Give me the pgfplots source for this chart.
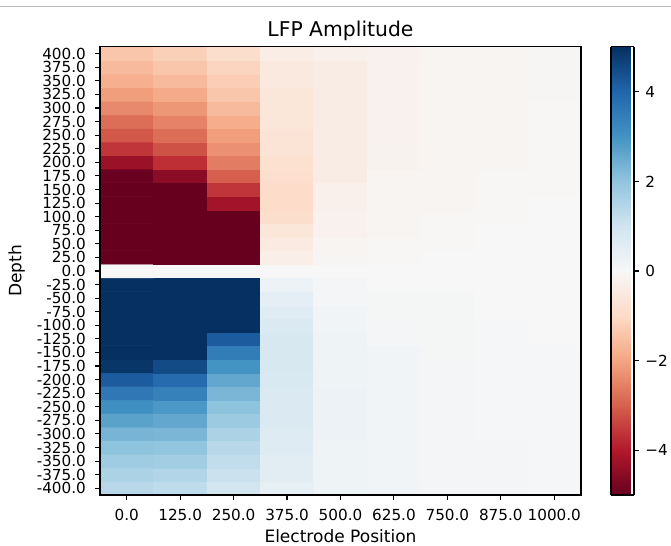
\documentclass[border=0pt]{standalone}
\usepackage{fontspec}
\setmainfont{DejaVu Sans}
\usepackage{pgfplots}
\pgfplotsset{compat=1.18}

% matplotlib RdBu, low = red, high = blue
\pgfplotsset{
  colormap={RdBu}{rgb255=(103,0,31) rgb255=(178,24,43) rgb255=(214,96,77)
    rgb255=(244,165,130) rgb255=(253,219,199) rgb255=(247,247,247)
    rgb255=(209,229,240) rgb255=(146,197,222) rgb255=(67,147,195)
    rgb255=(33,102,172) rgb255=(5,48,97)},
  every tick label/.append style={font=\fontsize{11}{13}\selectfont},
  colorbar shift/.style={},
}

\begin{document}
\begin{tikzpicture}
\useasboundingbox (-72bp,-36.7bp) rectangle (411.1bp,356.4bp);
\draw[line width=0.8bp, black!27] (-72bp,351.4bp) -- (411.1bp,351.4bp);
\begin{axis}[
  name=main, at={(0,0)}, anchor=south west,
  scale only axis, width=346.3bp, height=322.6bp,
  xmin=-0.5, xmax=8.5, ymin=-412.5, ymax=412.5,
  enlargelimits=false, axis on top,
  colormap name=RdBu, point meta min=-5, point meta max=5,
  xtick={0,1,2,3,4,5,6,7,8},
  xticklabels={0.0,125.0,250.0,375.0,500.0,625.0,750.0,875.0,1000.0},
  ytick={-400,-375,-350,-325,-300,-275,-250,-225,-200,-175,-150,-125,-100,-75,-50,-25,0,25,50,75,100,125,150,175,200,225,250,275,300,325,350,375,400},
  yticklabels={-400.0,-375.0,-350.0,-325.0,-300.0,-275.0,-250.0,-225.0,-200.0,-175.0,-150.0,-125.0,-100.0,-75.0,-50.0,-25.0,0.0,25.0,50.0,75.0,100.0,125.0,150.0,175.0,200.0,225.0,250.0,275.0,300.0,325.0,350.0,375.0,400.0},
  xtick pos=bottom, ytick pos=left, tick align=outside, major tick length=3.5bp,
  tick style={black, line width=0.8bp},
  axis line style={black, line width=0.8bp},
  xticklabel style={inner sep=0pt}, xticklabel shift=6.5bp,
  yticklabel style={inner sep=0pt}, yticklabel shift=6.5bp,
  title={LFP Amplitude},
  title style={font=\fontsize{14.7}{16}\selectfont, at={(axis description cs:0.5,1)},
    anchor=base, inner sep=0pt, yshift=1.2bp},
  xlabel={Electrode Position}, ylabel={Depth},
  label style={font=\fontsize{12.3}{14}\selectfont},
  xlabel style={at={(axis description cs:0.5,0)}, anchor=north, inner sep=0pt, yshift=-24.5bp},
  ylabel style={at={(axis description cs:-0.1733,0.5)}, anchor=center, inner sep=0pt},
  colorbar,
  colorbar style={
    at={(parent axis.north east)}, anchor=north west, xshift=21.6bp,
    width=16.6bp,
    separate axis lines, axis y line*=right, axis x line*=box,
    ytick={-4,-2,0,2,4}, yticklabels={−4,−2,0,2,4},
    xtick=\empty,
    tick align=outside, major tick length=3.5bp,
    tick style={black, line width=0.8bp},
    axis line style={black, line width=0.8bp},
    yticklabel style={inner sep=0pt, anchor=west}, yticklabel shift=4.4bp,
    extra description/.code={\draw[black, line width=0.8bp] (rel axis cs:0,0) -- (rel axis cs:0,1);},
  },
]
\addplot[matrix plot*, mesh/cols=9, point meta=explicit]
  table[x=x, y=y, meta=z, row sep=\\] {
x y z\\
0 -400 1.4\\ 1 -400 1.3\\ 2 -400 0.95\\ 3 -400 0.45\\ 4 -400 0.25\\ 5 -400 0.15\\ 6 -400 0.1\\ 7 -400 0.09\\ 8 -400 0.07\\
0 -375 1.6\\ 1 -375 1.5\\ 2 -375 1.1\\ 3 -375 0.55\\ 4 -375 0.25\\ 5 -375 0.15\\ 6 -375 0.1\\ 7 -375 0.09\\ 8 -375 0.07\\
0 -350 1.8\\ 1 -350 1.75\\ 2 -350 1.25\\ 3 -350 0.55\\ 4 -350 0.25\\ 5 -350 0.15\\ 6 -350 0.1\\ 7 -350 0.09\\ 8 -350 0.07\\
0 -325 2.05\\ 1 -325 2.0\\ 2 -325 1.4\\ 3 -325 0.65\\ 4 -325 0.25\\ 5 -325 0.15\\ 6 -325 0.1\\ 7 -325 0.09\\ 8 -325 0.07\\
0 -300 2.35\\ 1 -300 2.3\\ 2 -300 1.6\\ 3 -300 0.65\\ 4 -300 0.3\\ 5 -300 0.15\\ 6 -300 0.1\\ 7 -300 0.07\\ 8 -300 0.07\\
0 -275 2.7\\ 1 -275 2.6\\ 2 -275 1.85\\ 3 -275 0.75\\ 4 -275 0.3\\ 5 -275 0.15\\ 6 -275 0.1\\ 7 -275 0.07\\ 8 -275 0.07\\
0 -250 3.1\\ 1 -250 2.9\\ 2 -250 2.05\\ 3 -250 0.75\\ 4 -250 0.3\\ 5 -250 0.15\\ 6 -250 0.1\\ 7 -250 0.07\\ 8 -250 0.07\\
0 -225 3.6\\ 1 -225 3.4\\ 2 -225 2.3\\ 3 -225 0.75\\ 4 -225 0.3\\ 5 -225 0.15\\ 6 -225 0.1\\ 7 -225 0.07\\ 8 -225 0.07\\
0 -200 4.2\\ 1 -200 3.9\\ 2 -200 2.6\\ 3 -200 0.8\\ 4 -200 0.25\\ 5 -200 0.15\\ 6 -200 0.1\\ 7 -200 0.07\\ 8 -200 0.07\\
0 -175 4.9\\ 1 -175 4.5\\ 2 -175 3.0\\ 3 -175 0.85\\ 4 -175 0.25\\ 5 -175 0.15\\ 6 -175 0.1\\ 7 -175 0.07\\ 8 -175 0.07\\
0 -150 5\\ 1 -150 5\\ 2 -150 3.5\\ 3 -150 0.85\\ 4 -150 0.25\\ 5 -150 0.15\\ 6 -150 0.08\\ 7 -150 0.07\\ 8 -150 0.07\\
0 -125 5\\ 1 -125 5\\ 2 -125 4.2\\ 3 -125 0.85\\ 4 -125 0.25\\ 5 -125 0.1\\ 6 -125 0.08\\ 7 -125 0.07\\ 8 -125 0\\
0 -100 5\\ 1 -100 5\\ 2 -100 5\\ 3 -100 0.75\\ 4 -100 0.15\\ 5 -100 0.1\\ 6 -100 0.08\\ 7 -100 0.07\\ 8 -100 0\\
0 -75 5\\ 1 -75 5\\ 2 -75 5\\ 3 -75 0.6\\ 4 -75 0.15\\ 5 -75 0.08\\ 6 -75 0.08\\ 7 -75 0\\ 8 -75 0\\
0 -50 5\\ 1 -50 5\\ 2 -50 5\\ 3 -50 0.5\\ 4 -50 0.1\\ 5 -50 0.08\\ 6 -50 0.08\\ 7 -50 0\\ 8 -50 0\\
0 -25 5\\ 1 -25 5\\ 2 -25 5\\ 3 -25 0.3\\ 4 -25 0.1\\ 5 -25 0\\ 6 -25 0\\ 7 -25 0\\ 8 -25 0\\
0 0 0\\ 1 0 0\\ 2 0 0\\ 3 0 0\\ 4 0 0\\ 5 0 0\\ 6 0 0\\ 7 0 0\\ 8 0 0\\
0 25 -5\\ 1 25 -5\\ 2 25 -5\\ 3 25 -0.3\\ 4 25 -0.08\\ 5 25 -0.03\\ 6 25 0\\ 7 25 0\\ 8 25 0\\
0 50 -5\\ 1 50 -5\\ 2 50 -5\\ 3 50 -0.45\\ 4 50 -0.1\\ 5 50 -0.03\\ 6 50 -0.03\\ 7 50 0\\ 8 50 0\\
0 75 -5\\ 1 75 -5\\ 2 75 -5\\ 3 75 -0.6\\ 4 75 -0.2\\ 5 75 -0.1\\ 6 75 -0.03\\ 7 75 0\\ 8 75 0\\
0 100 -5\\ 1 100 -5\\ 2 100 -5\\ 3 100 -0.9\\ 4 100 -0.2\\ 5 100 -0.1\\ 6 100 -0.03\\ 7 100 -0.03\\ 8 100 0\\
0 125 -5\\ 1 125 -5\\ 2 125 -4.2\\ 3 125 -0.95\\ 4 125 -0.25\\ 5 125 -0.1\\ 6 125 -0.1\\ 7 125 -0.03\\ 8 125 0\\
0 150 -5\\ 1 150 -5\\ 2 150 -3.6\\ 3 150 -0.95\\ 4 150 -0.25\\ 5 150 -0.1\\ 6 150 -0.1\\ 7 150 -0.03\\ 8 150 -0.03\\
0 175 -4.95\\ 1 175 -4.5\\ 2 175 -3.0\\ 3 175 -0.85\\ 4 175 -0.4\\ 5 175 -0.1\\ 6 175 -0.1\\ 7 175 -0.03\\ 8 175 -0.03\\
0 200 -4.3\\ 1 200 -3.7\\ 2 200 -2.6\\ 3 200 -0.8\\ 4 200 -0.4\\ 5 200 -0.18\\ 6 200 -0.12\\ 7 200 -0.1\\ 8 200 -0.03\\
0 225 -3.6\\ 1 225 -3.2\\ 2 225 -2.3\\ 3 225 -0.7\\ 4 225 -0.4\\ 5 225 -0.18\\ 6 225 -0.12\\ 7 225 -0.1\\ 8 225 -0.03\\
0 250 -3.1\\ 1 250 -2.8\\ 2 250 -2.1\\ 3 250 -0.7\\ 4 250 -0.4\\ 5 250 -0.2\\ 6 250 -0.12\\ 7 250 -0.1\\ 8 250 -0.03\\
0 275 -2.8\\ 1 275 -2.5\\ 2 275 -1.85\\ 3 275 -0.6\\ 4 275 -0.4\\ 5 275 -0.2\\ 6 275 -0.12\\ 7 275 -0.1\\ 8 275 -0.03\\
0 300 -2.4\\ 1 300 -2.2\\ 2 300 -1.6\\ 3 300 -0.6\\ 4 300 -0.4\\ 5 300 -0.2\\ 6 300 -0.12\\ 7 300 -0.1\\ 8 300 -0.03\\
0 325 -2.1\\ 1 325 -1.9\\ 2 325 -1.4\\ 3 325 -0.6\\ 4 325 -0.4\\ 5 325 -0.2\\ 6 325 -0.12\\ 7 325 -0.1\\ 8 325 -0.08\\
0 350 -1.8\\ 1 350 -1.6\\ 2 350 -1.25\\ 3 350 -0.5\\ 4 350 -0.4\\ 5 350 -0.2\\ 6 350 -0.12\\ 7 350 -0.1\\ 8 350 -0.08\\
0 375 -1.6\\ 1 375 -1.4\\ 2 375 -1.1\\ 3 375 -0.5\\ 4 375 -0.4\\ 5 375 -0.2\\ 6 375 -0.12\\ 7 375 -0.1\\ 8 375 -0.08\\
0 400 -1.4\\ 1 400 -1.2\\ 2 400 -0.9\\ 3 400 -0.35\\ 4 400 -0.25\\ 5 400 -0.2\\ 6 400 -0.12\\ 7 400 -0.1\\ 8 400 -0.08\\
};
\end{axis}
\end{tikzpicture}
\end{document}
